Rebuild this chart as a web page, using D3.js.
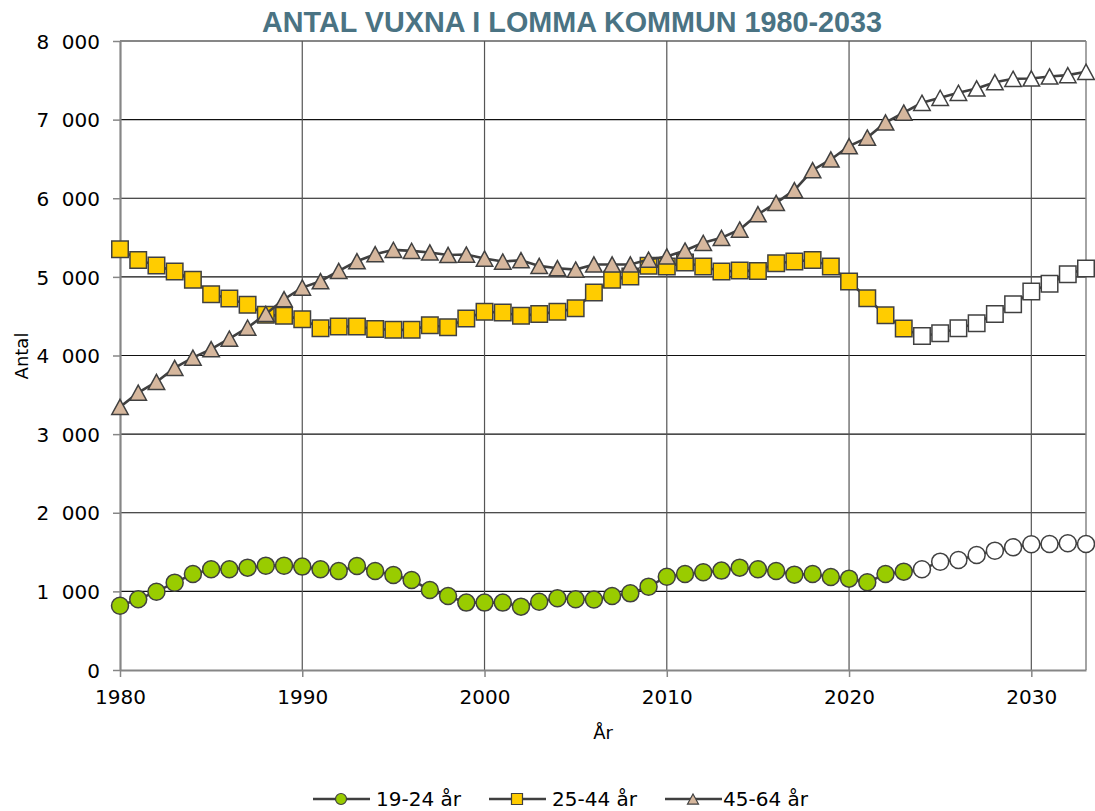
<!DOCTYPE html>
<html>
<head>
<meta charset="utf-8">
<script src="https://cdn.jsdelivr.net/npm/d3@7"></script>
<style>
  body { margin: 0; background: #fff; }
  svg { display: block; font-family: 'DejaVu Sans', sans-serif; }
</style>
</head>
<body>
<div class="container"></div>
<script>
const years = [
  1980, 1981, 1982, 1983, 1984, 1985, 1986, 1987, 1988, 1989,
  1990, 1991, 1992, 1993, 1994, 1995, 1996, 1997, 1998, 1999,
  2000, 2001, 2002, 2003, 2004, 2005, 2006, 2007, 2008, 2009,
  2010, 2011, 2012, 2013, 2014, 2015, 2016, 2017, 2018, 2019,
  2020, 2021, 2022, 2023, 2024, 2025, 2026, 2027, 2028, 2029,
  2030, 2031, 2032, 2033
];
const age19to24 = [
  818, 899, 996, 1111, 1221, 1281, 1281, 1302, 1327, 1327,
  1315, 1281, 1260, 1323, 1260, 1208, 1145, 1018, 941, 857,
  857, 857, 806, 869, 912, 899, 897, 941, 975, 1060,
  1187, 1221, 1243, 1264, 1302, 1281, 1260, 1213, 1221, 1183,
  1162, 1115, 1221, 1251, 1281, 1378, 1399, 1463, 1518, 1561,
  1599, 1603, 1612, 1603
];
const age25to44 = [
  5352, 5216, 5144, 5068, 4962, 4780, 4724, 4644, 4517, 4504,
  4462, 4347, 4368, 4368, 4338, 4326, 4326, 4385, 4360, 4470,
  4555, 4546, 4504, 4529, 4555, 4602, 4800, 4962, 5004, 5140,
  5131, 5182, 5131, 5068, 5080, 5076, 5174, 5195, 5216, 5131,
  4940, 4729, 4512, 4342, 4249, 4283, 4347, 4411, 4529, 4652,
  4813, 4911, 5034, 5106
];
const age45to64 = [
  3346, 3528, 3664, 3842, 3973, 4080, 4215, 4355, 4529, 4716,
  4864, 4945, 5076, 5199, 5288, 5344, 5331, 5310, 5278, 5284,
  5233, 5195, 5212, 5140, 5110, 5093, 5157, 5157, 5157, 5220,
  5259, 5335, 5433, 5496, 5602, 5797, 5941, 6103, 6357, 6493,
  6662, 6772, 6963, 7090, 7214, 7277, 7341, 7396, 7476, 7519,
  7523, 7549, 7566, 7608
];
const seriesNames = ['19-24 år', '25-44 år', '45-64 år'];
const xTicks = [1980, 1990, 2000, 2010, 2020, 2030];
const yTicks = [0, 1000, 2000, 3000, 4000, 5000, 6000, 7000, 8000];
const firstForecastYear = 2024;

const width = 1095;
const height = 811;
const plot = { left: 120, right: 1086, top: 41, bottom: 670 };
const lineColor = '#404040';
const axisColor = '#868686';

const series = [
  { name: seriesNames[0], values: age19to24, fill: '#99cc00', shape: 'circle' },
  { name: seriesNames[1], values: age25to44, fill: '#ffcc00', shape: 'square' },
  { name: seriesNames[2], values: age45to64, fill: '#d6b79d', shape: 'triangle' }
];

const svg = d3.select('.container')
  .append('svg')
  .attr('width', width)
  .attr('height', height);

// Scales
const xScale = d3.scaleLinear()
  .domain([1980, 2033])
  .range([plot.left, plot.right]);

const yScale = d3.scaleLinear()
  .domain([0, 8000])
  .range([plot.bottom, plot.top]);

// Grid lines
svg.append('g')
  .selectAll('line')
  .data(yTicks.slice(1))
  .enter()
  .append('line')
  .attr('x1', plot.left)
  .attr('x2', plot.right)
  .attr('y1', d => yScale(d))
  .attr('y2', d => yScale(d))
  .attr('stroke', '#111')
  .attr('stroke-width', 1.2);

svg.append('g')
  .selectAll('line')
  .data(xTicks.slice(1))
  .enter()
  .append('line')
  .attr('x1', d => xScale(d))
  .attr('x2', d => xScale(d))
  .attr('y1', plot.top)
  .attr('y2', plot.bottom)
  .attr('stroke', '#555')
  .attr('stroke-width', 1.2);

// right border of the plot area
svg.append('line')
  .attr('x1', plot.right).attr('x2', plot.right)
  .attr('y1', plot.top).attr('y2', plot.bottom)
  .attr('stroke', axisColor)
  .attr('stroke-width', 1.5);

// Axes
const yAxis = svg.append('g')
  .attr('transform', `translate(${plot.left}, 0)`)
  .call(d3.axisLeft(yScale)
    .tickValues(yTicks)
    .tickSize(7)
    .tickPadding(13)
    .tickSizeOuter(0)
    .tickFormat(d => d3.format(',')(d).replace(',', '\u2007')));

const xAxis = svg.append('g')
  .attr('transform', `translate(0, ${plot.bottom})`)
  .call(d3.axisBottom(xScale)
    .tickValues(xTicks)
    .tickSize(7)
    .tickPadding(13)
    .tickSizeOuter(0)
    .tickFormat(d3.format('d')));

[xAxis, yAxis].forEach(axis => {
  axis.select('.domain').attr('stroke', axisColor).attr('stroke-width', 2.2);
  axis.selectAll('.tick line').attr('stroke', axisColor).attr('stroke-width', 1.5);
  axis.selectAll('.tick text')
    .attr('fill', '#000')
    .style('font-family', "'DejaVu Sans', sans-serif")
    .style('font-size', '20px');
});
yAxis.selectAll('.tick text').attr('dy', '0.36em');
xAxis.selectAll('.tick text').attr('dy', '0.72em');

// Axis titles
svg.append('text')
  .attr('transform', 'translate(28, 356) rotate(-90)')
  .attr('text-anchor', 'middle')
  .style('font-size', '18px')
  .text('Antal');

svg.append('text')
  .attr('x', 603)
  .attr('y', 739)
  .attr('text-anchor', 'middle')
  .style('font-size', '18px')
  .text('År');

// Title
const title = svg.append('text')
  .attr('x', 572)
  .attr('y', 32)
  .attr('text-anchor', 'middle')
  .attr('fill', '#4a7383')
  .style('font-family', "'Liberation Sans Narrow', 'Liberation Sans', sans-serif")
  .style('font-weight', 'bold')
  .style('font-size', '29px')
  .text('ANTAL VUXNA I LOMMA KOMMUN 1980-2033');
title.attr('textLength', 620).attr('lengthAdjust', 'spacingAndGlyphs');

// Marker shapes
function markerPath(shape, size) {
  if (shape === 'circle') return d3.symbol().type(d3.symbolCircle).size(Math.PI * size * size / 4)();
  if (shape === 'square') {
    const h = size / 2;
    return `M${-h},${-h}H${h}V${h}H${-h}Z`;
  }
  const w = size / 2;
  const th = size * 0.92;
  return `M0,${-th / 2}L${w},${th / 2}L${-w},${th / 2}Z`;
}

const line = d3.line()
  .x((d, i) => xScale(years[i]))
  .y(d => yScale(d));

series.forEach(s => {
  const g = svg.append('g');
  g.append('path')
    .attr('d', line(s.values))
    .attr('fill', 'none')
    .attr('stroke', lineColor)
    .attr('stroke-width', 2.6);

  g.selectAll('path.marker')
    .data(s.values)
    .enter()
    .append('path')
    .attr('class', 'marker')
    .attr('d', markerPath(s.shape, s.shape === 'circle' ? 17 : 16.5))
    .attr('transform', (d, i) => `translate(${xScale(years[i])}, ${yScale(d)})`)
    .attr('fill', (d, i) => years[i] >= firstForecastYear ? '#fff' : s.fill)
    .attr('stroke', lineColor)
    .attr('stroke-width', 1.5);
});

// Legend
const legendItems = [
  { x: 313, textX: 376 },
  { x: 489, textX: 552 },
  { x: 665, textX: 723 }
];
const legendY = 799;

series.forEach((s, i) => {
  const item = legendItems[i];
  const g = svg.append('g');
  g.append('line')
    .attr('x1', item.x)
    .attr('x2', item.x + 57)
    .attr('y1', legendY)
    .attr('y2', legendY)
    .attr('stroke', lineColor)
    .attr('stroke-width', 2.4);
  g.append('path')
    .attr('d', markerPath(s.shape, 11))
    .attr('transform', `translate(${item.x + 28}, ${legendY})`)
    .attr('fill', s.fill)
    .attr('stroke', lineColor)
    .attr('stroke-width', 1.2);
  g.append('text')
    .attr('x', item.textX)
    .attr('y', legendY + 7)
    .style('font-size', '20px')
    .text(s.name);
});
</script>
</body>
</html>
